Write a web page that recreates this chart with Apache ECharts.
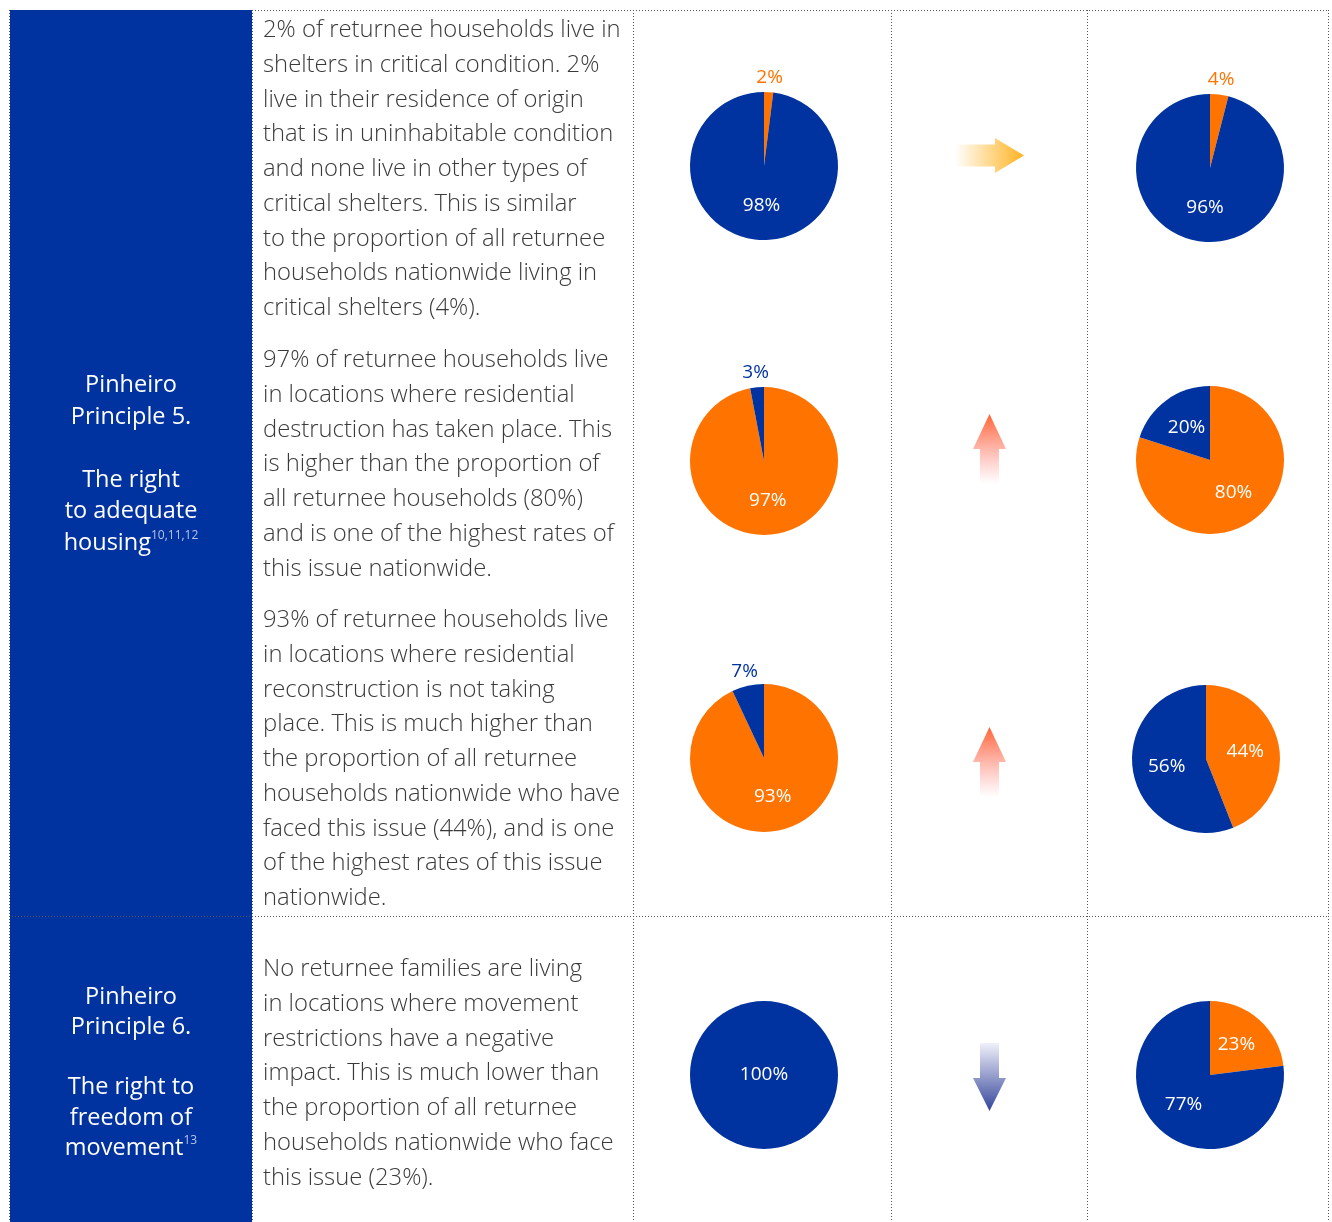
<!DOCTYPE html>
<html>
<head>
<meta charset="utf-8">
<script src="https://cdn.jsdelivr.net/npm/echarts@6/dist/echarts.min.js"></script>
<style>
html,body{margin:0;padding:0;background:#fff;}
#chart{width:1332px;height:1222px;}
</style>
</head>
<body>
<div id="chart"></div>
<script>
// ---- data ----
const issues = ['Critical shelters', 'Residential destruction', 'No reconstruction', 'Movement restrictions'];
const localOrange = [2, 97, 93, 0];      // share of returnee households (this location) facing the issue
const localBlue = [98, 3, 7, 100];
const nationalOrange = [4, 80, 44, 23];  // share of all returnee households nationwide
const nationalBlue = [96, 20, 56, 77];
const trend = ['similar', 'higher', 'higher', 'lower'];

const principle5 = ['Pinheiro', 'Principle 5.', '', 'The right', 'to adequate', 'housing'];
const principle5Sup = '10,11,12';
const principle6 = ['Pinheiro', 'Principle 6.', '', 'The right to', 'freedom of', 'movement'];
const principle6Sup = '13';

const paragraphs = [
  ['2% of returnee households live in', 'shelters in critical condition. 2%', 'live in their residence of origin', 'that is in uninhabitable condition', 'and none live in other types of', 'critical shelters. This is similar', 'to the proportion of all returnee', 'households nationwide living in', 'critical shelters (4%).'],
  ['97% of returnee households live', 'in locations where residential', 'destruction has taken place. This', 'is higher than the proportion of', 'all returnee households (80%)', 'and is one of the highest rates of', 'this issue nationwide.'],
  ['93% of returnee households live', 'in locations where residential', 'reconstruction is not taking', 'place. This is much higher than', 'the proportion of all returnee', 'households nationwide who have', 'faced this issue (44%), and is one', 'of the highest rates of this issue', 'nationwide.'],
  ['No returnee families are living', 'in locations where movement', 'restrictions have a negative', 'impact. This is much lower than', 'the proportion of all returnee', 'households nationwide who face', 'this issue (23%).']
];

// ---- layout / style ----
const BLUE = '#0033A0';
const ORANGE = '#FF7300';
const TEXT = '#3a3a3a';
const leftCenters = [[764, 166], [764, 461], [764, 758], [764, 1075]];
const rightCenters = [[1210, 168], [1210, 460], [1206, 759], [1210, 1075]];
const paraTops = [13, 343, 603, 952];
const R = 74;

function pieData(o, b) {
  const arr = [];
  const mk = (v, color) => {
    if (v <= 0) return;
    let pos = v >= 100 ? 'center' : (v < 10 ? 'outside' : 'inside');
    arr.push({
      value: v,
      itemStyle: { color: color },
      label: {
        position: pos,
        color: pos === 'outside' ? color : '#ffffff'
      },
      labelLine: { show: false, length: 15, length2: 0 }
    });
  };
  mk(o, ORANGE);
  mk(b, BLUE);
  return arr;
}

const series = [];
issues.forEach((name, i) => {
  [[leftCenters[i], localOrange[i], localBlue[i]], [rightCenters[i], nationalOrange[i], nationalBlue[i]]].forEach(([c, o, b], k) => {
    series.push({
      type: 'pie',
      name: name + (k ? ' (nationwide)' : ''),
      center: c,
      radius: R,
      startAngle: 90,
      clockwise: true,
      silent: true,
      animation: false,
      avoidLabelOverlap: false,
      itemStyle: { borderWidth: 0 },
      emphasis: { disabled: true },
      label: {
        show: true,
        formatter: '{c}%',
        fontFamily: 'Open Sans',
        fontSize: 19,
        distanceToLabelLine: 0
      },
      labelLine: { show: false, length: 15, length2: 0 },
      labelLayout: function (p) {
        if (p.labelLinePoints) return { align: 'center', verticalAlign: 'middle' };
        return {};
      },
      data: pieData(o, b)
    });
  });
});

// ---- graphics: table, text, arrows ----
const g = [];
g.push({ type: 'rect', shape: { x: 10, y: 10, width: 242, height: 1212 }, style: { fill: BLUE }, silent: true, z: 0 });

const dot = { stroke: '#555555', lineWidth: 1, lineDash: [1, 2] };
function hline(y, x1, x2, s) { g.push({ type: 'line', shape: { x1: x1, y1: y, x2: x2, y2: y }, style: Object.assign({}, dot, s || {}), silent: true, z: 2 }); }
function vline(x, y1, y2, s) { g.push({ type: 'line', shape: { x1: x, y1: y1, x2: x, y2: y2 }, style: Object.assign({}, dot, s || {}), silent: true, z: 2 }); }
hline(10.5, 252, 1328);
hline(916.5, 9, 1328);
vline(9.5, 10, 1222);
[252.5, 633.5, 891.5, 1087.5, 1328.5].forEach(x => vline(x, 10, 1222));

function titleBlock(lines, sup, top, lh) {
  const txt = lines.map((l, i) => {
    if (l === '') return '{m| }';
    if (i === lines.length - 1) return '{m|' + l + '}{s|' + sup + '}';
    return '{m|' + l + '}';
  }).join('\n');
  g.push({
    type: 'text', x: 131, y: top, z: 3, silent: true,
    style: {
      text: txt, align: 'center', verticalAlign: 'top',
      rich: {
        m: { fontFamily: 'Open Sans', fontSize: 23.5, fontWeight: 500, fill: '#ffffff', lineHeight: lh },
        s: { fontFamily: 'Open Sans', fontSize: 12, fill: '#b9c3ea', lineHeight: lh, verticalAlign: 'top', padding: [2, 0, 0, 0] }
      }
    }
  });
}
titleBlock(principle5, principle5Sup, 369.5, 31.6);
titleBlock(principle6, principle6Sup, 982, 30.2);

paragraphs.forEach((p, i) => {
  g.push({
    type: 'text', x: 263, y: paraTops[i], z: 3, silent: true,
    style: {
      text: p.join('\n'), fontFamily: 'Open Sans', fontWeight: 300, fontSize: 23.8,
      lineHeight: 34.75, fill: TEXT, align: 'left', verticalAlign: 'top'
    }
  });
});

function lg(x1, y1, x2, y2, c1, c2) {
  return { type: 'linear', x: x1, y: y1, x2: x2, y2: y2, colorStops: [{ offset: 0, color: c1 }, { offset: 1, color: c2 }] };
}
function arrowFor(kind, cy) {
  if (kind === 'similar') {
    g.push({ type: 'polygon', silent: true, z: 3,
      shape: { points: [[955, cy - 11], [995, cy - 11], [995, cy - 17.5], [1024, cy], [995, cy + 17.5], [995, cy + 11], [955, cy + 11]] },
      style: { fill: lg(0, 0, 1, 0, 'rgba(255,179,33,0)', '#FFB321') } });
  } else if (kind === 'higher') {
    const t = cy - 35;
    g.push({ type: 'polygon', silent: true, z: 3,
      shape: { points: [[989.5, t], [1006, t + 35], [999, t + 35], [999, t + 70], [980, t + 70], [980, t + 35], [973, t + 35]] },
      style: { fill: lg(0, 0, 0, 1, '#FF6535', 'rgba(255,120,120,0)') } });
  } else {
    const t = cy - 34;
    g.push({ type: 'polygon', silent: true, z: 3,
      shape: { points: [[980, t], [999, t], [999, t + 35], [1006, t + 35], [989.5, t + 68], [973, t + 35], [980, t + 35]] },
      style: { fill: lg(0, 0, 0, 1, 'rgba(240,240,250,1)', '#34459A') } });
  }
}
const arrowCenters = [155.5, 449, 762, 1077];
trend.forEach((t, i) => arrowFor(t, arrowCenters[i]));

const chart = echarts.init(document.getElementById('chart'), null, { renderer: 'canvas' });
chart.setOption({
  backgroundColor: '#ffffff',
  animation: false,
  tooltip: { show: false },
  series: series,
  graphic: { elements: g }
});
</script>
</body>
</html>
